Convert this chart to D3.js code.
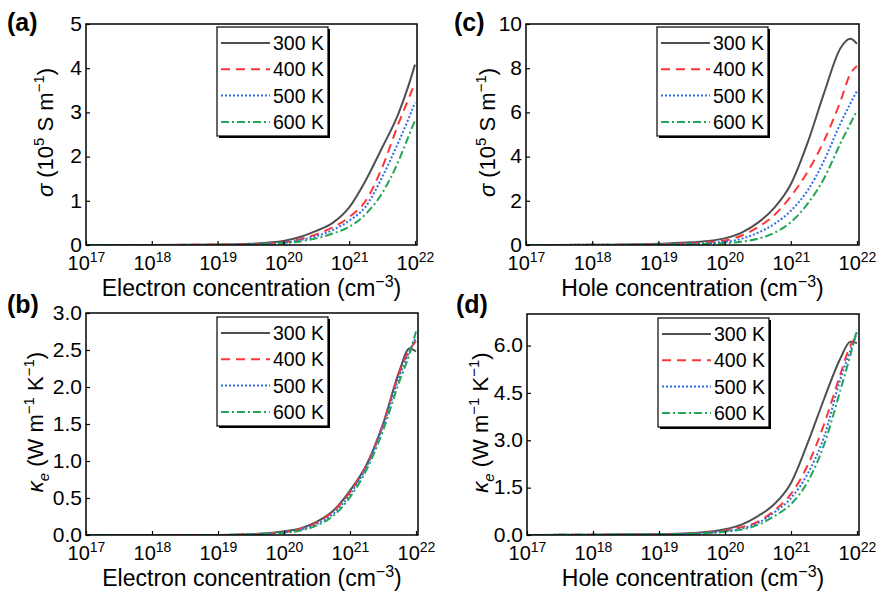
<!DOCTYPE html>
<html>
<head>
<meta charset="utf-8">
<script src="https://cdn.jsdelivr.net/npm/d3@7"></script>
<style>
  body { margin: 0; background: #fff; }
  svg { font-family: "Liberation Sans", Arial, sans-serif; }
</style>
</head>
<body>
<script>
const W = 876, H = 592;

// carrier concentration (cm^-3), shared x values of every curve
const conc = [1e17, 1e18, 1e19, 3.16e19, 1e20, 1.78e20, 3.16e20, 5.62e20, 1e21, 1.78e21, 3.16e21, 5.62e21, 7.94e21, 1e22];
const temps = ['300 K', '400 K', '500 K', '600 K'];
const xTickVals = [1e17, 1e18, 1e19, 1e20, 1e21, 1e22];

// (a) sigma, electrons (10^5 S/m)
const sigmaE300 = [0, 0, 0.01, 0.03, 0.09, 0.18, 0.32, 0.50, 0.85, 1.46, 2.2, 2.98, 3.6, 4.08];
const sigmaE400 = [0, 0, 0.01, 0.02, 0.06, 0.13, 0.24, 0.40, 0.63, 1.0, 1.75, 2.75, 3.3, 3.67];
const sigmaE500 = [0, 0, 0, 0.02, 0.05, 0.11, 0.20, 0.34, 0.55, 0.87, 1.53, 2.33, 2.85, 3.22];
const sigmaE600 = [0, 0, 0, 0.01, 0.04, 0.08, 0.15, 0.26, 0.41, 0.70, 1.17, 1.90, 2.45, 2.82];

// (c) sigma, holes
const sigmaH300 = [0, 0.01, 0.06, 0.12, 0.3, 0.55, 1.0, 1.68, 2.75, 4.6, 6.85, 8.9, 9.33, 9.1];
const sigmaH400 = [0, 0.01, 0.04, 0.08, 0.2, 0.42, 0.8, 1.35, 2.2, 3.3, 4.7, 6.5, 7.75, 8.1];
const sigmaH500 = [0, 0.01, 0.03, 0.06, 0.14, 0.28, 0.55, 0.95, 1.55, 2.45, 3.8, 5.5, 6.4, 6.97];
const sigmaH600 = [0, 0, 0.02, 0.04, 0.08, 0.15, 0.28, 0.55, 1.03, 1.85, 3.0, 4.6, 5.5, 6.07];

// (b) kappa_e, electrons (W/m/K)
const kappaE300 = [0, 0, 0, 0.01, 0.05, 0.09, 0.18, 0.33, 0.6, 0.95, 1.5, 2.22, 2.52, 2.48];
const kappaE400 = [0, 0, 0, 0.01, 0.04, 0.08, 0.17, 0.32, 0.58, 0.94, 1.5, 2.2, 2.5, 2.62];
const kappaE500 = [0, 0, 0, 0.01, 0.035, 0.07, 0.15, 0.29, 0.55, 0.92, 1.47, 2.15, 2.48, 2.67];
const kappaE600 = [0, 0, 0, 0.01, 0.03, 0.06, 0.13, 0.26, 0.51, 0.88, 1.41, 2.08, 2.44, 2.75];

// (d) kappa_e, holes
const kappaH300 = [0, 0.01, 0.02, 0.06, 0.18, 0.33, 0.6, 0.98, 1.65, 2.9, 4.3, 5.6, 6.12, 6.08];
const kappaH400 = [0, 0.01, 0.02, 0.05, 0.14, 0.25, 0.42, 0.78, 1.3, 2.2, 3.5, 5.1, 6.0, 6.3];
const kappaH500 = [0, 0.01, 0.02, 0.04, 0.12, 0.2, 0.38, 0.72, 1.17, 1.93, 3.1, 4.95, 5.85, 6.42];
const kappaH600 = [0, 0.01, 0.02, 0.04, 0.1, 0.17, 0.32, 0.6, 0.98, 1.68, 2.85, 4.6, 5.7, 6.5];

const colors = ['#505050', '#ff3535', '#2f6ee6', '#22a555'];
const dashes = [null, '9,6', '2,2', '8,3,2,3'];

const sigmaTitle = [{t: 'σ', it: true}, {t: ' (10'}, {t: '5', sup: true}, {t: ' S m'}, {t: '−1', sup: true}, {t: ')'}];
const kappaTitle = [{t: 'κ', it: true}, {t: 'e', it: true, sub: true}, {t: ' (W m'}, {t: '−1', sup: true}, {t: ' K'}, {t: '−1', sup: true}, {t: ')'}];

const panels = [
  {label: '(a)', lx: 7, ly: 31, x0: 86, x1: 417, y0: 24, y1: 245, yMax: 5, yTicks: [0, 1, 2, 3, 4, 5], fmt: d3.format('d'),
   series: [sigmaE300, sigmaE400, sigmaE500, sigmaE600], xTitle: 'Electron concentration (cm', yTitle: sigmaTitle, yOff: 33, legY: 27},
  {label: '(c)', lx: 454, ly: 31, x0: 526, x1: 859, y0: 24, y1: 245, yMax: 10, yTicks: [0, 2, 4, 6, 8, 10], fmt: d3.format('d'),
   series: [sigmaH300, sigmaH400, sigmaH500, sigmaH600], xTitle: 'Hole concentration (cm', yTitle: sigmaTitle, yOff: 31, legY: 27},
  {label: '(b)', lx: 7, ly: 313, x0: 86, x1: 418, y0: 313, y1: 535, yMax: 3, yTicks: [0, 0.5, 1, 1.5, 2, 2.5, 3], fmt: d3.format('.1f'),
   series: [kappaE300, kappaE400, kappaE500, kappaE600], xTitle: 'Electron concentration (cm', yTitle: kappaTitle, yOff: 43, legY: 317},
  {label: '(d)', lx: 456, ly: 313, x0: 527, x1: 859, y0: 314, y1: 535, yMax: 7, yTicks: [0, 1.5, 3, 4.5, 6], fmt: d3.format('.1f'),
   series: [kappaH300, kappaH400, kappaH500, kappaH600], xTitle: 'Hole concentration (cm', yTitle: kappaTitle, yOff: 39, legY: 318}
];

const svg = d3.select('body').append('svg').attr('width', W).attr('height', H);

// writes a list of text parts with super/subscripts into a text element
function richText(sel, parts, size) {
  let shift = 0;
  parts.forEach(p => {
    const want = p.sup ? -0.4 * size : p.sub ? 0.25 * size : 0;
    const ts = sel.append('tspan').text(p.t).attr('dy', want - shift);
    if (p.sup || p.sub) ts.attr('font-size', Math.round(size * 0.7));
    if (p.it) ts.attr('font-style', 'italic');
    shift = want;
  });
}

panels.forEach((p, pi) => {
  const x = d3.scaleLog().domain([1e17, 1e22]).range([p.x0, p.x1 - 2]);
  const y = d3.scaleLinear().domain([0, p.yMax]).range([p.y1, p.y0]);
  const g = svg.append('g');

  g.append('clipPath').attr('id', 'clip' + pi)
    .append('rect').attr('x', p.x0).attr('y', p.y0).attr('width', p.x1 - p.x0).attr('height', p.y1 - p.y0);

  // curves
  const line = d3.line().x((d, i) => x(conc[i])).y(d => y(d)).curve(d3.curveMonotoneX);
  p.series.forEach((s, i) => {
    g.append('path').datum(s)
      .attr('clip-path', `url(#clip${pi})`)
      .attr('d', line)
      .attr('fill', 'none')
      .attr('stroke', colors[i])
      .attr('stroke-width', 2)
      .attr('stroke-dasharray', dashes[i]);
  });

  // x axis
  const xa = g.append('g').attr('transform', `translate(0,${p.y1})`)
    .call(d3.axisBottom(x).tickValues(xTickVals).tickSizeInner(-4).tickSizeOuter(0));
  xa.select('.domain').remove();
  xa.selectAll('.tick line').attr('stroke', '#000').attr('stroke-width', 1.2);
  xa.selectAll('.tick text').each(function(d) {
    const t = d3.select(this).text(null).attr('y', 25).attr('dy', 0)
      .attr('fill', '#000').attr('font-size', 20).attr('font-family', '"Liberation Sans", Arial, sans-serif');
    richText(t, [{t: '10'}, {t: String(Math.round(Math.log10(d))), sup: true}], 20);
  });

  // y axis
  const ya = g.append('g').attr('transform', `translate(${p.x0},0)`)
    .call(d3.axisLeft(y).tickValues(p.yTicks).tickFormat(p.fmt).tickSizeInner(-4).tickSizeOuter(0).tickPadding(4));
  ya.select('.domain').remove();
  ya.selectAll('.tick line').attr('stroke', '#000').attr('stroke-width', 1.2);
  ya.selectAll('.tick text').attr('fill', '#000').attr('font-size', 21).attr('dy', '0.3em')
    .attr('font-family', '"Liberation Sans", Arial, sans-serif');

  // frame
  g.append('rect').attr('x', p.x0).attr('y', p.y0)
    .attr('width', p.x1 - p.x0).attr('height', p.y1 - p.y0)
    .attr('fill', 'none').attr('stroke', '#000').attr('stroke-width', 1.5);

  // x title
  const xt = g.append('text').attr('x', (p.x0 + p.x1) / 2).attr('y', p.y1 + 51)
    .attr('text-anchor', 'middle').attr('font-size', 23);
  richText(xt, [{t: p.xTitle}, {t: '−3', sup: true}, {t: ')'}], 23);

  // y title
  const yc = (p.y0 + p.y1) / 2 - 2;
  const yt = g.append('text')
    .attr('transform', `translate(${p.x0 - p.yOff},${yc}) rotate(-90)`)
    .attr('text-anchor', 'middle').attr('font-size', 22);
  richText(yt, p.yTitle, 22);

  // panel label
  g.append('text').attr('x', p.lx).attr('y', p.ly)
    .attr('font-size', 25).attr('font-weight', 'bold').text(p.label);

  // legend
  const lx = p.x0 + 131, lw = 111, lh = 109;
  const lg = g.append('g').attr('transform', `translate(${lx},${p.legY})`);
  lg.append('rect').attr('x', 2).attr('y', 2).attr('width', lw).attr('height', lh).attr('fill', '#000');
  lg.append('rect').attr('width', lw).attr('height', lh).attr('fill', '#fff')
    .attr('stroke', '#000').attr('stroke-width', 1.2);
  temps.forEach((t, i) => {
    const ry = 16 + i * 26.3;
    lg.append('line').attr('x1', 4).attr('x2', 53).attr('y1', ry).attr('y2', ry)
      .attr('stroke', colors[i]).attr('stroke-width', 2).attr('stroke-dasharray', dashes[i]);
    lg.append('text').attr('x', 56).attr('y', ry).attr('dy', '0.36em')
      .attr('font-size', 19.5).text(t);
  });
});
</script>
</body>
</html>
